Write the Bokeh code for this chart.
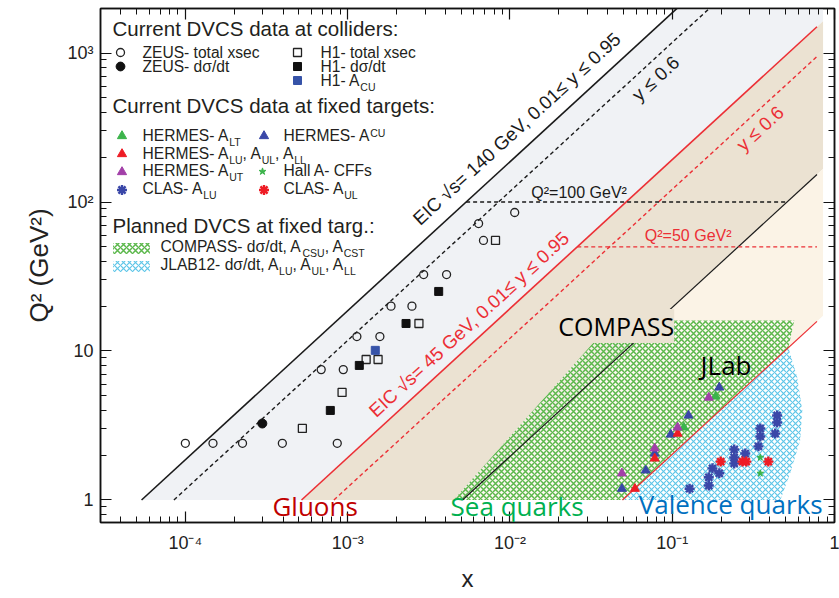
import math
from bokeh.plotting import figure
from bokeh.models import (FixedTicker, CustomJSTickFormatter, LogAxis, Label,
                          Legend, LegendItem)
from bokeh.embed import file_html
from bokeh.resources import INLINE

# ======================= DATA =======================
zeus_total_x = [1.0e-4, 1.48e-4, 2.25e-4, 3.96e-4, 8.63e-4, 6.87e-4, 9.4e-4,
                1.14e-3, 1.58e-3, 1.85e-3, 2.49e-3, 2.94e-3, 4.07e-3,
                6.41e-3, 6.87e-3, 1.07e-2]
zeus_total_q2 = [2.4, 2.4, 2.4, 2.4, 2.4, 7.5, 7.5, 12.5, 12.5, 20.0, 20.0,
                 32.6, 32.6, 71.7, 55.2, 85.0]
zeus_dsdt_x = [2.98e-4]
zeus_dsdt_q2 = [3.26]
h1_total_x = [5.26e-4, 9.24e-4, 1.30e-3, 1.54e-3, 2.75e-3, 8.15e-3]
h1_total_q2 = [3.02, 5.27, 8.77, 8.77, 15.3, 55.2]
h1_dsdt_x = [7.82e-4, 1.18e-3, 2.29e-3, 3.64e-3]
h1_dsdt_q2 = [3.99, 8.0, 15.3, 25.1]
h1_acu_x = [1.48e-3]
h1_acu_q2 = [10.1]

hermes_alt_x = [0.185, 0.118]
hermes_alt_q2 = [4.95, 3.07]
hermes_acu_x = [0.195, 0.126, 0.098, 0.078, 0.0687, 0.049]
hermes_acu_q2 = [5.69, 3.69, 2.75, 2.05, 1.58, 1.19]
hermes_alu_x = [0.108, 0.078, 0.0589]
hermes_alu_q2 = [2.79, 1.90, 1.19]
hermes_aut_x = [0.168, 0.108, 0.078, 0.049]
hermes_aut_q2 = [4.87, 3.07, 2.22, 1.51]
clas_alu_x = [0.443, 0.443, 0.431, 0.349, 0.349, 0.340, 0.241, 0.241, 0.241,
              0.282, 0.177, 0.195, 0.168, 0.168, 0.128]
clas_alu_q2 = [3.69, 3.31, 2.79, 3.02, 2.67, 2.29, 2.18, 1.93, 1.76,
               2.05, 1.63, 1.51, 1.42, 1.25, 1.19]
clas_aul_x = [0.199, 0.271, 0.286, 0.391]
clas_aul_q2 = [1.81, 1.81, 1.81, 1.81]
halla_x = [0.349, 0.349]
halla_q2 = [1.93, 1.51]

# planned fixed-target coverage (outline corners)
compass_x = [0.0045, 0.0432, 0.565, 0.52, 0.0494]
compass_q2 = [1.0, 16.0, 16.0, 10.5, 1.0]
jlab_x = [0.0494, 0.52, 0.589, 0.633, 0.614, 0.533, 0.464]
jlab_q2 = [1.0, 10.5, 6.64, 3.99, 2.51, 1.51, 1.0]

# EIC kinematic limits  Q^2 = s * x * y
eic140_sqrt_s = 140.0
eic45_sqrt_s = 45.0
y_cuts = [0.95, 0.6, 0.01]
q2_floor = 1.0
x_line_end = 0.78
x_fill_end = 0.85
q2_marks = [100.0, 50.0]

x_tick_values = [1e-4, 1e-3, 1e-2, 1e-1, 1.0]
x_tick_labels = ["10\u207b\u2074", "10\u207b\u00b3", "10\u207b\u00b2", "10\u207b\u00b9", "1"]
y_tick_values = [1.0, 10.0, 100.0, 1000.0]
y_tick_labels = ["1", "10", "10\u00b2", "10\u00b3"]

# ======================= LAYOUT / STYLE =======================
CANVAS_W, CANVAS_H = 839, 598
FRAME_LEFT, FRAME_RIGHT, FRAME_TOP, FRAME_BOTTOM = 100, 834, 8, 522   # page px
X_RANGE = (3.0e-5, 1.0)
Y_RANGE = (0.706, 1990.0)
FONT = "Liberation Sans"
FONT2 = "Open Sans"
INK = "#231f20"
RED = "#ec2f35"
GRAY_FILL = "#f0f2f5"
TAN_FILL = "#ebe2d2"
CREAM_FILL = "#fbf3e6"
GREEN_HATCH = "#5cb84c"
BLUE_HATCH = "#5ec6e8"
C_BLUE = "#3a47a8"
C_RED = "#ee1c25"
C_GREEN = "#3cb44b"
C_MAG = "#a23fa8"
BASE_FIX = 0.38   # lift (in em) so that an unrotated label anchor sits on the text baseline


def sx(px):
    return px - FRAME_LEFT


def sy(py):
    return FRAME_BOTTOM - py


p = figure(width=CANVAS_W, height=CANVAS_H, x_axis_type="log", y_axis_type="log",
           x_range=X_RANGE, y_range=Y_RANGE, output_backend="svg",
           toolbar_location=None,
           min_border_left=FRAME_LEFT, min_border_right=CANVAS_W - FRAME_RIGHT,
           min_border_top=FRAME_TOP, min_border_bottom=CANVAS_H - FRAME_BOTTOM,
           background_fill_color="white", border_fill_color="white")
p.grid.visible = False
p.outline_line_color = "#111111"
p.outline_line_width = 1.5

x_minor = [k * 10.0 ** e for e in range(-5, 0) for k in range(2, 10)]
y_minor = [k * 10.0 ** e for e in range(-1, 4) for k in range(2, 10)]


def formatter(vals, labs):
    return CustomJSTickFormatter(args=dict(vals=vals, labs=labs), code="""
        for (let i = 0; i < vals.length; i++) {
            if (Math.abs(Math.log10(tick) - Math.log10(vals[i])) < 1e-6) { return labs[i]; }
        }
        return "";
    """)


def style_axis(ax):
    ax.major_tick_in = 11
    ax.major_tick_out = 0
    ax.minor_tick_in = 6
    ax.minor_tick_out = 0
    ax.major_tick_line_color = "#111111"
    ax.minor_tick_line_color = "#111111"
    ax.major_tick_line_width = 1.2
    ax.minor_tick_line_width = 1.0
    ax.axis_line_color = "#111111"
    ax.axis_line_width = 1.5
    ax.major_label_text_font = FONT
    ax.major_label_text_font_size = "18px"
    ax.major_label_text_color = "#222222"


xa = p.xaxis[0]
xa.ticker = FixedTicker(ticks=x_tick_values, minor_ticks=x_minor)
xa.formatter = formatter(x_tick_values, x_tick_labels)
style_axis(xa)
xa.major_label_standoff = 10
xa.axis_label = "x"
xa.axis_label_text_font = FONT
xa.axis_label_text_font_size = "24px"
xa.axis_label_text_font_style = "normal"
xa.axis_label_text_color = "#222222"
xa.axis_label_standoff = 9

ya = p.yaxis[0]
ya.ticker = FixedTicker(ticks=y_tick_values, minor_ticks=y_minor)
ya.formatter = formatter(y_tick_values, y_tick_labels)
style_axis(ya)
ya.major_label_standoff = 7
ya.axis_label = "Q\u00b2 (GeV\u00b2)"
ya.axis_label_text_font = FONT
ya.axis_label_text_font_size = "26px"
ya.axis_label_text_font_style = "normal"
ya.axis_label_text_color = "#222222"
ya.axis_label_standoff = 10

blank = CustomJSTickFormatter(code="return '';")
top_axis = LogAxis(ticker=FixedTicker(ticks=x_tick_values, minor_ticks=x_minor), formatter=blank)
right_axis = LogAxis(ticker=FixedTicker(ticks=y_tick_values, minor_ticks=y_minor), formatter=blank)
for ax in (top_axis, right_axis):
    style_axis(ax)
    ax.major_label_text_font_size = "0px"
    ax.major_label_standoff = 0
p.add_layout(top_axis, "above")
p.add_layout(right_axis, "right")

# ======================= shaded kinematic regions =======================
s140 = eic140_sqrt_s ** 2
s45 = eic45_sqrt_s ** 2
y_hi, y_mid, y_lo = y_cuts
q2_sky = 1.0e4

gray_x = [q2_floor / (s140 * y_hi), q2_sky / (s140 * y_hi), x_fill_end, x_fill_end, q2_floor / (s45 * y_hi)]
gray_y = [q2_floor, q2_sky, q2_sky, s45 * y_hi * x_fill_end, q2_floor]
tan_x = [q2_floor / (s45 * y_hi), x_fill_end, x_fill_end, q2_floor / (s140 * y_lo)]
tan_y = [q2_floor, s45 * y_hi * x_fill_end, s140 * y_lo * x_fill_end, q2_floor]
cream_x = [q2_floor / (s140 * y_lo), x_fill_end, x_fill_end, q2_floor / (s45 * y_lo)]
cream_y = [q2_floor, s140 * y_lo * x_fill_end, s45 * y_lo * x_fill_end, q2_floor]

p.patch(gray_x, gray_y, fill_color=GRAY_FILL, line_color=None)
p.patch(tan_x, tan_y, fill_color=TAN_FILL, line_color=None)
p.patch(cream_x, cream_y, fill_color=CREAM_FILL, line_color=None)

r_compass = p.patch(compass_x, compass_q2, fill_color="white", fill_alpha=0.45,
                    hatch_pattern="x", hatch_color=GREEN_HATCH, hatch_scale=6,
                    hatch_weight=1.5, line_color=None)
r_jlab = p.patch(jlab_x, jlab_q2, fill_color="white", fill_alpha=0.6,
                 hatch_pattern="x", hatch_color=BLUE_HATCH, hatch_scale=6,
                 hatch_weight=1.2, line_color=None)


def kin_line(s, y):
    return [q2_floor / (s * y), x_line_end], [q2_floor, s * y * x_line_end]


lx, ly = kin_line(s140, y_hi)
p.line(lx, ly, line_color="#1a1a1a", line_width=1.6)
lx, ly = kin_line(s140, y_mid)
p.line(lx, ly, line_color="#1a1a1a", line_width=1.4, line_dash="4 3")
lx, ly = kin_line(s140, y_lo)
p.line(lx, ly, line_color="#1a1a1a", line_width=1.2)
lx, ly = kin_line(s45, y_hi)
p.line(lx, ly, line_color=RED, line_width=1.6)
lx, ly = kin_line(s45, y_mid)
p.line(lx, ly, line_color=RED, line_width=1.4, line_dash="4 3")
lx, ly = kin_line(s45, y_lo)
p.line(lx, ly, line_color=RED, line_width=1.2)

p.line([q2_marks[0] / (s140 * y_hi), q2_marks[0] / (s140 * y_lo)], [q2_marks[0], q2_marks[0]],
       line_color="#1a1a1a", line_width=1.4, line_dash="4 3")
p.line([q2_marks[1] / (s45 * y_hi), x_line_end], [q2_marks[1], q2_marks[1]],
       line_color=RED, line_width=1.4, line_dash="4 3")

# ======================= data points =======================
r_zt = p.scatter(zeus_total_x, zeus_total_q2, marker="circle", size=8, fill_color=None,
                 line_color="#222222", line_width=1.3)
r_zd = p.scatter(zeus_dsdt_x, zeus_dsdt_q2, marker="circle", size=9, fill_color="#111111",
                 line_color="#111111")
r_ht = p.scatter(h1_total_x, h1_total_q2, marker="square", size=8, fill_color=None,
                 line_color="#222222", line_width=1.3)
r_hd = p.scatter(h1_dsdt_x, h1_dsdt_q2, marker="square", size=8, fill_color="#111111",
                 line_color="#111111")
r_ha = p.scatter(h1_acu_x, h1_acu_q2, marker="square", size=8, fill_color="#3653a8",
                 line_color="#3653a8")
r_alt = p.scatter(hermes_alt_x, hermes_alt_q2, marker="triangle", size=9, fill_color=C_GREEN, line_color=C_GREEN)
r_acu = p.scatter(hermes_acu_x, hermes_acu_q2, marker="triangle", size=9, fill_color=C_BLUE, line_color=C_BLUE)
r_alu = p.scatter(hermes_alu_x, hermes_alu_q2, marker="triangle", size=9, fill_color=C_RED, line_color=C_RED)
r_aut = p.scatter(hermes_aut_x, hermes_aut_q2, marker="triangle", size=9, fill_color=C_MAG, line_color=C_MAG)
r_calu = p.scatter(clas_alu_x, clas_alu_q2, marker="asterisk", size=10, line_color=C_BLUE, line_width=2.4)
r_caul = p.scatter(clas_aul_x, clas_aul_q2, marker="asterisk", size=10, line_color=C_RED, line_width=2.4)
r_halla = p.scatter(halla_x, halla_q2, marker="star", size=7, fill_color=C_GREEN, line_color=C_GREEN)

# ======================= annotations =======================
fw = FRAME_RIGHT - FRAME_LEFT
fh = FRAME_BOTTOM - FRAME_TOP
ppd_x = fw / math.log10(X_RANGE[1] / X_RANGE[0])
ppd_y = fh / math.log10(Y_RANGE[1] / Y_RANGE[0])
diag = math.atan2(ppd_y, ppd_x)


def dlabel(x, y, text, size_px, color=INK, font=FONT, angle=0.0, bg=None):
    kw = {}
    if bg is not None:
        kw = dict(background_fill_color=bg, background_fill_alpha=1.0)
    lift = BASE_FIX * size_px if angle == 0.0 else 0.0
    p.add_layout(Label(x=x, y=y, text=text, text_font=font, text_font_size=f"{size_px}px",
                       text_color=color, angle=angle, text_align="left",
                       y_offset=lift, text_baseline="alphabetic", **kw))


dlabel(2.63e-3, 74.0, "EIC \u221as= 140 GeV, 0.01\u2264 y \u2264 0.95", 18.8, "#1a1a1a", angle=diag)
dlabel(0.0589, 503.0, "y \u2264 0.6", 18.8, "#1a1a1a", angle=diag)
dlabel(1.41e-3, 3.81, "EIC \u221as= 45 GeV, 0.01\u2264 y \u2264 0.95", 18.8, RED, angle=diag)
dlabel(0.259, 232.0, "y \u2264 0.6", 18.8, RED, angle=diag)
dlabel(0.01355, 105.6, "Q\u00b2=100 GeV\u00b2", 16, "#1a1a1a")
dlabel(0.0678, 54.3, "Q\u00b2=50 GeV\u00b2", 16, RED)
dlabel(0.01986, 12.7, "COMPASS", 25, "#000000", font=FONT2, bg=TAN_FILL)
dlabel(0.1496, 6.96, "JLab", 26, "#000000", font=FONT2)
dlabel(3.44e-4, 0.787, "Gluons", 26, "#c00000", font=FONT2)
dlabel(4.31e-3, 0.787, "Sea quarks", 26, "#00b050", font=FONT2)
dlabel(0.0622, 0.812, "Valence quarks", 26, "#0070c0", font=FONT2)

# ---- legend: swatches via Legend, texts via labels (with sub/superscripts) ----
CHAR_W = {' ': 278, '-': 333, ',': 278, '.': 278, '/': 278, ':': 278, '=': 584,
          '(': 333, ')': 333, '\u03c3': 600}
for ch in "0123456789":
    CHAR_W[ch] = 556
CHAR_W.update(dict(zip("ABCDEFGHIJKLMNOPQRSTUVWXYZ",
                       [667, 667, 722, 722, 667, 611, 778, 722, 278, 500, 667, 556, 833,
                        722, 778, 667, 778, 722, 667, 611, 722, 667, 944, 667, 667, 611])))
CHAR_W.update(dict(zip("abcdefghijklmnopqrstuvwxyz",
                       [556, 556, 500, 556, 556, 278, 556, 556, 222, 222, 500, 222, 833,
                        556, 556, 556, 556, 333, 500, 278, 556, 500, 722, 500, 500, 500])))


def text_w(s, fs):
    return sum(CHAR_W.get(c, 556) for c in s) * fs / 1000.0


def rich_text(x_page, base_page, segments, fs=15.6, fs_small=10.5, color=INK):
    x = x_page
    for txt, kind in segments:
        size = fs if kind == "n" else fs_small
        shift = {"n": 0.0, "sub": -4.0, "sup": 5.0}[kind] + BASE_FIX * size
        p.add_layout(Label(x=sx(x), y=sy(base_page) + shift, x_units="screen", y_units="screen",
                           text=txt, text_font=FONT, text_font_size=f"{size}px", text_color=color,
                           text_baseline="alphabetic", text_align="left"))
        x += text_w(txt, size)


def swatch(renderer, cx, cy, bw, bh):
    leg = Legend(items=[LegendItem(label=" ", renderers=[renderer])],
                 location=(sx(cx - bw / 2.0), sy(cy + bh / 2.0)),
                 orientation="vertical", padding=0, margin=0, spacing=0,
                 glyph_width=int(round(bw)), glyph_height=int(round(bh)),
                 label_height=int(round(bh)), label_width=1, label_standoff=0,
                 border_line_color=None, background_fill_alpha=0,
                 label_text_font_size="8px")
    p.add_layout(leg)


section_titles = ["Current DVCS data at colliders:",
                  "Current DVCS data at fixed targets:",
                  "Planned DVCS at fixed targ.:"]
for title, base in zip(section_titles, [36, 113, 233]):
    rich_text(112, base, [(title, "n")], fs=20.5)

rows = [
    (142, 58, [("ZEUS- total xsec", "n")]),
    (142, 72, [("ZEUS- d\u03c3/dt", "n")]),
    (320, 58, [("H1- total xsec", "n")]),
    (320, 72, [("H1- d\u03c3/dt", "n")]),
    (320, 86, [("H1- A", "n"), ("CU", "sub")]),
    (142, 141, [("HERMES- A", "n"), ("LT", "sub")]),
    (283, 141, [("HERMES- A", "n"), ("CU", "sup")]),
    (142, 159, [("HERMES- A", "n"), ("LU", "sub"), (", A", "n"), ("UL", "sub"), (", A", "n"), ("LL", "sub")]),
    (142, 176, [("HERMES- A", "n"), ("UT", "sub")]),
    (283, 176, [("Hall A- CFFs", "n")]),
    (142, 194, [("CLAS- A", "n"), ("LU", "sub")]),
    (283, 194, [("CLAS- A", "n"), ("UL", "sub")]),
    (160, 252, [("COMPASS- d\u03c3/dt, A", "n"), ("CSU", "sub"), (", A", "n"), ("CST", "sub")]),
    (160, 270, [("JLAB12- d\u03c3/dt, A", "n"), ("LU", "sub"), (", A", "n"), ("UL", "sub"), (", A", "n"), ("LL", "sub")]),
]
for xp, bp, segs in rows:
    rich_text(xp, bp, segs)

swatch(r_zt, 120, 52, 20, 20)
swatch(r_zd, 120, 66, 22, 22)
swatch(r_ht, 297, 52, 20, 20)
swatch(r_hd, 297, 66, 20, 20)
swatch(r_ha, 297, 80, 20, 20)
swatch(r_alt, 121, 135, 23, 23)
swatch(r_alu, 121, 153, 23, 23)
swatch(r_aut, 121, 171, 23, 23)
swatch(r_calu, 121, 189, 25, 25)
swatch(r_acu, 263, 135, 23, 23)
swatch(r_halla, 262, 171, 18, 18)
swatch(r_caul, 263, 189, 25, 25)
swatch(r_compass, 130.5, 247.5, 46, 14)
swatch(r_jlab, 130.5, 266, 46, 14)

open("out.html", "w").write(file_html(p, INLINE))
